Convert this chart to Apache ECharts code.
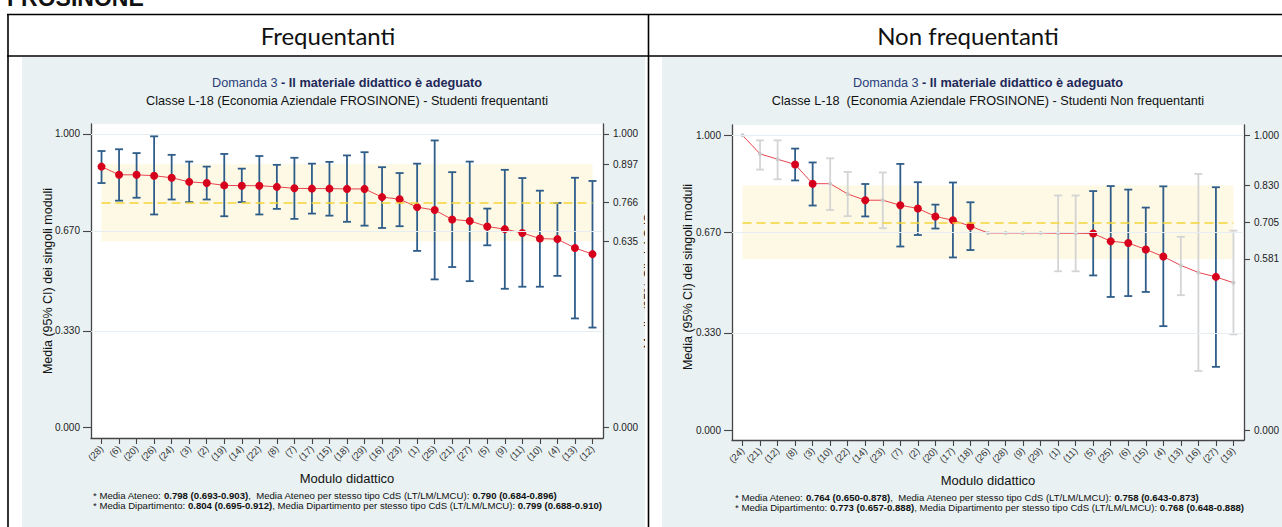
<!DOCTYPE html>
<html><head><meta charset="utf-8">
<script src="https://cdn.jsdelivr.net/npm/echarts@6/dist/echarts.min.js"></script>
<style>
html,body{margin:0;padding:0;background:#fff;overflow:hidden;}
#frame{position:absolute;left:0;top:0;width:1282px;height:527px;}
#left{position:absolute;left:22px;top:57px;width:623px;height:470px;}
#right{position:absolute;left:662px;top:57px;width:620px;height:470px;}
</style></head><body>
<div id="frame"></div><div id="left"></div><div id="right"></div>
<script>
// ---------- DATA ----------
const leftLabels = ['(28)','(6)','(20)','(26)','(24)','(3)','(2)','(19)','(14)','(22)','(8)','(7)','(17)','(15)','(18)','(29)','(16)','(23)','(1)','(25)','(21)','(27)','(5)','(9)','(11)','(10)','(4)','(13)','(12)'];
const leftMean = [0.889,0.861,0.861,0.858,0.851,0.837,0.833,0.825,0.824,0.824,0.820,0.815,0.814,0.814,0.813,0.813,0.785,0.778,0.751,0.741,0.709,0.704,0.685,0.676,0.663,0.644,0.642,0.612,0.591];
const leftLow  = [0.833,0.773,0.783,0.726,0.777,0.768,0.777,0.720,0.768,0.726,0.745,0.711,0.729,0.722,0.701,0.688,0.680,0.686,0.602,0.505,0.547,0.499,0.621,0.473,0.480,0.480,0.517,0.372,0.341];
const leftHigh = [0.942,0.948,0.935,0.992,0.929,0.906,0.889,0.932,0.882,0.925,0.895,0.919,0.899,0.905,0.927,0.938,0.887,0.867,0.899,0.978,0.870,0.906,0.746,0.878,0.850,0.807,0.765,0.851,0.840];
const leftBand = [0.635, 0.766, 0.897];   // CdS CI low, mean, CI high

const rightLabels = ['(24)','(21)','(12)','(8)','(3)','(10)','(22)','(14)','(23)','(7)','(2)','(20)','(17)','(18)','(26)','(28)','(9)','(29)','(1)','(11)','(5)','(25)','(6)','(15)','(4)','(13)','(16)','(27)','(19)'];
const rightMean = [1.000,0.937,0.919,0.901,0.836,0.836,0.801,0.780,0.780,0.763,0.752,0.725,0.712,0.692,0.669,0.669,0.669,0.669,0.668,0.668,0.667,0.641,0.635,0.613,0.589,0.559,0.535,0.520,0.500];
const rightLow  = [null,0.884,0.851,0.847,0.762,0.747,0.726,0.725,0.685,0.623,0.662,0.684,0.586,0.611,null,null,null,null,0.539,0.539,0.525,0.452,0.455,0.469,0.353,0.458,0.201,0.215,0.325];
const rightHigh = [null,0.983,0.983,0.955,0.908,0.922,0.876,0.835,0.874,0.903,0.841,0.765,0.840,0.773,null,null,null,null,0.796,0.796,0.811,0.828,0.816,0.755,0.827,0.656,0.869,0.824,0.677];
const rightValid = [0,0,0,1,1,0,0,1,0,1,1,1,1,1,0,0,0,0,0,0,1,1,1,1,1,0,0,1,0];
const rightBand = [0.581, 0.705, 0.830];

const yTickValues = [0, 0.33, 0.67, 1];

const leftFoot = [
  ['* Media Ateneo: ', '0.798 (0.693-0.903)', ',  Media Ateneo per stesso tipo CdS (LT/LM/LMCU): ', '0.790 (0.684-0.896)'],
  ['* Media Dipartimento: ', '0.804 (0.695-0.912)', ', Media Dipartimento per stesso tipo CdS (LT/LM/LMCU): ', '0.799 (0.688-0.910)']
];
const rightFoot = [
  ['* Media Ateneo: ', '0.764 (0.650-0.878)', ',  Media Ateneo per stesso tipo CdS (LT/LM/LMCU): ', '0.758 (0.643-0.873)'],
  ['* Media Dipartimento: ', '0.773 (0.657-0.888)', ', Media Dipartimento per stesso tipo CdS (LT/LM/LMCU): ', '0.768 (0.648-0.888)']
];

// ---------- FRAME ----------
const FONT = '"Liberation Sans", Arial, sans-serif';
const frame = echarts.init(document.getElementById('frame'), null, {renderer:'svg'});
const blk = {stroke:'#000', lineWidth:1.6};
frame.setOption({
  animation:false,
  graphic:{elements:[
    {type:'text', x:7, y:9, style:{text:'FROSINONE', font:'bold 23px ' + FONT, fill:'#111', verticalAlign:'bottom'}},
    {type:'line', shape:{x1:7, y1:14.5, x2:1282, y2:14.5}, style:blk},
    {type:'line', shape:{x1:7, y1:56, x2:1282, y2:56}, style:blk},
    {type:'line', shape:{x1:8, y1:14, x2:8, y2:527}, style:blk},
    {type:'line', shape:{x1:648.5, y1:14, x2:648.5, y2:527}, style:blk},
    {type:'text', x:328, y:35, style:{text:'Frequentanti', font:'24px Lato, "Open Sans", sans-serif', fill:'#111', align:'center', verticalAlign:'middle'}},
    {type:'text', x:968, y:35, style:{text:'Non frequentanti', font:'24px Lato, "Open Sans", sans-serif', fill:'#111', align:'center', verticalAlign:'middle'}}
  ]}
});

// ---------- CHART BUILDER ----------
function makeOption(labels, mean, low, high, valid, band, foot, subtitle, L) {
  const n = labels.length;
  const idx = labels.map((_, i) => i);
  const isValid = i => valid ? !!valid[i] : true;
  const axisColor = '#454545';
  const axLine = {show:true, onZero:false, lineStyle:{color:axisColor, width:1.3}};
  const tickStyle = {color:axisColor, width:1.1};
  const rTicks = [0, band[0], band[1], band[2], 1];
  const footRich = {
    n:{font:'9.6px ' + FONT, fill:'#111'},
    b:{font:'bold 9.6px ' + FONT, fill:'#111'}
  };
  const footText = f => '{n|' + f[0] + '}{b|' + f[1] + '}{n|' + f[2] + '}{b|' + f[3] + '}';
  const elements = [
    {type:'text', x:L.cx, y:L.t1, style:{text:'{a|Domanda 3}{b| - Il materiale didattico è adeguato}', align:'center', verticalAlign:'middle',
      rich:{a:{font:'12.7px ' + FONT, fill:'#2a3c78'}, b:{font:'bold 12.7px ' + FONT, fill:'#1f2857'}}}},
    {type:'text', x:L.cx, y:L.t2, style:{text:subtitle, font:'12.7px ' + FONT, fill:'#111', align:'center', verticalAlign:'middle'}},
    {type:'text', x:L.yx, y:L.yy, rotation:Math.PI/2, style:{text:'Media (95% CI) dei singoli moduli', font:'12.5px ' + FONT, fill:'#111', align:'center', verticalAlign:'middle'}},
    {type:'text', x:L.cx, y:L.xt, style:{text:'Modulo didattico', font:'13px ' + FONT, fill:'#111', align:'center', verticalAlign:'middle'}},
    {type:'text', x:L.fx, y:L.f1, style:{text:footText(foot[0]), rich:footRich, verticalAlign:'middle'}},
    {type:'text', x:L.fx, y:L.f2, style:{text:footText(foot[1]), rich:footRich, verticalAlign:'middle'}}
  ];
  if (L.rx) {
    elements.push({type:'text', x:L.rx, y:L.yy, rotation:Math.PI/2, style:{text:'Media (95% CI) del CdS', font:'12.5px ' + FONT, fill:'#111', align:'center', verticalAlign:'middle'}});
  }
  const gridLine = {color:'#e7eef3', width:1, type:'solid'};
  return {
    animation:false,
    backgroundColor:'#e9f1f3',
    textStyle:{fontFamily:FONT},
    grid:{left:L.gl, top:L.gt, width:L.gw, height:L.gh, show:true, backgroundColor:'#fff', borderWidth:0},
    xAxis:{type:'value', min:-0.6, max:n - 1 + 0.6,
      axisLine:axLine,
      axisTick:{show:true, customValues:idx, length:6, lineStyle:tickStyle},
      axisLabel:{customValues:idx, formatter:v => labels[Math.round(v)], rotate:45, fontSize:9.5, fontFamily:FONT, color:'#333', margin:9},
      splitLine:{show:false}},
    yAxis:[
      {type:'value', min:L.ymin, max:L.ymax, position:'left',
        axisLine:axLine,
        axisTick:{show:true, customValues:yTickValues, length:8, lineStyle:tickStyle},
        axisLabel:{customValues:yTickValues, formatter:v => Number(v).toFixed(3), fontSize:10, fontFamily:FONT, color:'#222', margin:11},
        splitLine:{show:false}},
      {type:'value', min:L.ymin, max:L.ymax, position:'right',
        axisLine:axLine,
        axisTick:{show:true, customValues:rTicks, length:6, lineStyle:tickStyle},
        axisLabel:{customValues:rTicks, formatter:v => Number(v).toFixed(3), fontSize:10, fontFamily:FONT, color:'#222', margin:10},
        splitLine:{show:false}}
    ],
    graphic:{elements:elements},
    series:[
      {type:'line', data:[], z:0, silent:true,
        markLine:{silent:true, symbol:'none', label:{show:false}, animation:false, lineStyle:gridLine,
          data:yTickValues.filter(v => v > 0).map(v => ({yAxis:v}))}},
      {type:'line', data:[], z:1, silent:true,
        markArea:{silent:true, itemStyle:{color:'#fdf9e4'}, animation:false,
          data:[[{coord:[0, band[0]]}, {coord:[n - 1, band[2]]}]]},
        markLine:{silent:true, symbol:'none', label:{show:false}, animation:false,
          lineStyle:{color:'#f4d33a', width:1.6, type:[9, 5]},
          data:[[{coord:[0, band[1]]}, {coord:[n - 1, band[1]]}]]}},
      {type:'custom', z:2, silent:true,
        data:idx.map(i => [i, low[i] == null ? NaN : low[i], high[i] == null ? NaN : high[i], isValid(i) ? 1 : 0]),
        encode:{x:0, y:[1, 2]},
        renderItem:(params, api) => {
          const lo = api.value(1), hi = api.value(2);
          if (lo == null || hi == null || isNaN(lo) || isNaN(hi)) return;
          const x = api.value(0);
          const p1 = api.coord([x, lo]), p2 = api.coord([x, hi]);
          const st = {stroke: api.value(3) ? '#2f5d8a' : '#d4d4d4', lineWidth:1.8, fill:null};
          const w = 4;
          return {type:'group', children:[
            {type:'line', shape:{x1:p1[0], y1:p1[1], x2:p2[0], y2:p2[1]}, style:st},
            {type:'line', shape:{x1:p1[0] - w, y1:p1[1], x2:p1[0] + w, y2:p1[1]}, style:st},
            {type:'line', shape:{x1:p2[0] - w, y1:p2[1], x2:p2[0] + w, y2:p2[1]}, style:st}
          ]};
        }},
      {type:'line', z:3, silent:true, data:idx.map(i => [i, mean[i]]), symbol:'none',
        lineStyle:{color:'#e8444e', width:1}},
      {type:'scatter', z:4, silent:true, data:idx.map(i => [i, mean[i]]),
        symbolSize:(v, p) => isValid(p.dataIndex) ? 8 : 4,
        itemStyle:{color:p => isValid(p.dataIndex) ? '#d6001c' : '#c9c9c9', opacity:1}}
    ]
  };
}

const leftChart = echarts.init(document.getElementById('left'), null, {renderer:'svg'});
leftChart.setOption(makeOption(leftLabels, leftMean, leftLow, leftHigh, null, leftBand, leftFoot,
  'Classe L-18 (Economia Aziendale FROSINONE) - Studenti frequentanti',
  {gl:69, gt:67, gw:512, gh:314, ymin:-0.035, ymax:1.034, cx:325, t1:26, t2:44, yx:26, yy:224, xt:421, fx:71, f1:438, f2:448, rx:627}));

const rightChart = echarts.init(document.getElementById('right'), null, {renderer:'svg'});
rightChart.setOption(makeOption(rightLabels, rightMean, rightLow, rightHigh, rightValid, rightBand, rightFoot,
  'Classe L-18  (Economia Aziendale FROSINONE) - Studenti Non frequentanti',
  {gl:70, gt:68, gw:513, gh:315, ymin:-0.033, ymax:1.035, cx:326, t1:26, t2:44, yx:26, yy:220, xt:423, fx:73, f1:440, f2:450}));
</script>
</body></html>
